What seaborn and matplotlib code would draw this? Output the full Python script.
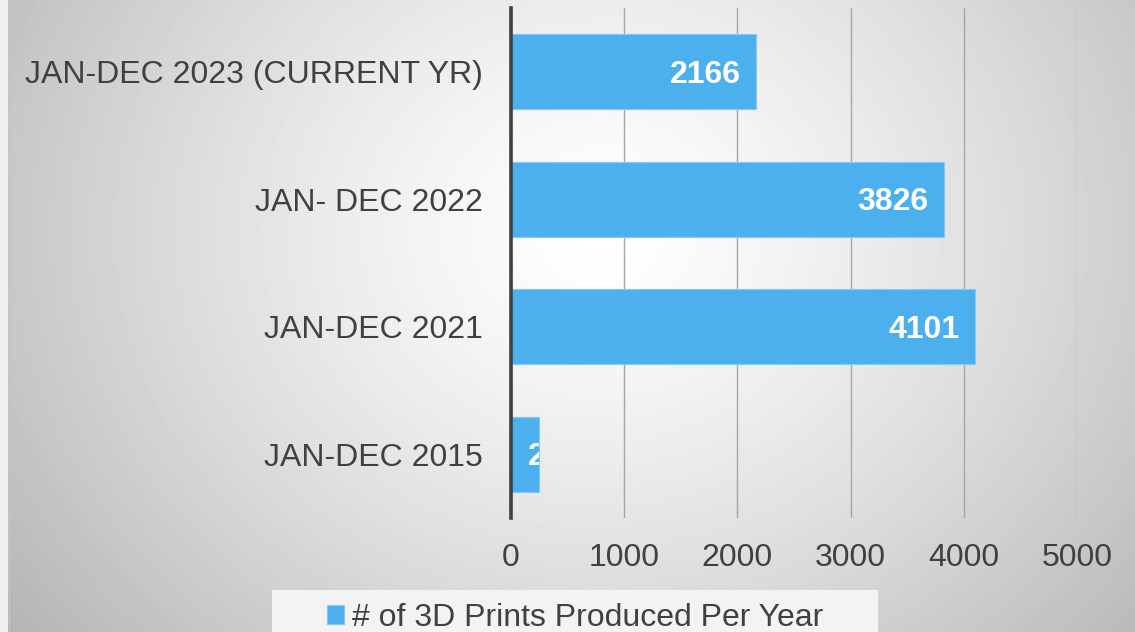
import numpy as np
import pandas as pd
import matplotlib
matplotlib.use('Agg')
import matplotlib.pyplot as plt
from matplotlib.patches import Rectangle
import seaborn as sns

# data
periods = ['JAN-DEC 2023 (CURRENT YR)', 'JAN- DEC 2022', 'JAN-DEC 2021', 'JAN-DEC 2015']
prints = [2166, 3826, 4101, 247]
x_ticks = [0, 1000, 2000, 3000, 4000, 5000]
series_name = '# of 3D Prints Produced Per Year'

df = pd.DataFrame({'period': periods, 'prints': prints})

sns.set_theme(style='white')
plt.rcParams['font.family'] = ['Liberation Sans', 'DejaVu Sans']

W, H = 1135, 632
fig = plt.figure(figsize=(W / 100, H / 100), dpi=100)

# radial grey gradient background
bg = fig.add_axes([0, 0, 1, 1], zorder=-10)
yy, xx = np.mgrid[0:H, 0:W]
r = np.sqrt(((xx - 600) / 640) ** 2 + ((yy - 230) / 560) ** 2)
shade = 1.0 - 0.24 * np.clip(r, 0, 1.25) ** 1.3
bg.imshow(shade, cmap='gray', vmin=0, vmax=1, aspect='auto', extent=[0, W, H, 0])
bg.add_patch(Rectangle((0, 0), 8, H, color='#f0f0f0', lw=0))
bg.plot([8.5, 8.5], [0, H], color='#c4c4c4', lw=1)
# legend box
bg.add_patch(Rectangle((272, 590), 606, 50, color='#f3f3f3', lw=0))
bg.set_xlim(0, W)
bg.set_ylim(H, 0)
bg.axis('off')

ax = fig.add_axes([511 / W, 1 - 518 / H, (1077 - 511) / W, 510 / H])
ax.patch.set_alpha(0)
bar_color = '#4db0ee'
sns.barplot(data=df, y='period', x='prints', orient='h', color=bar_color,
            saturation=1, width=0.59, ax=ax, zorder=3, label=series_name,
            edgecolor='#86c9f3', linewidth=0.8)

ax.set_xlim(0, 5000)
ax.set_xticks(x_ticks)
ax.set_xticklabels([str(t) for t in x_ticks])
ax.xaxis.grid(True, color='#a6a6a6', lw=1)
ax.set_axisbelow(True)
for s in ['top', 'right', 'bottom']:
    ax.spines[s].set_visible(False)
ax.spines['left'].set_color('#404040')
ax.spines['left'].set_linewidth(2.6)
ax.spines['left'].set_zorder(5)
ax.tick_params(axis='x', labelsize=23, colors='#404040', length=0, pad=18)
ax.tick_params(axis='y', labelsize=23, colors='#404040', length=0, pad=20)
ax.set_xlabel('')
ax.set_ylabel('')

# value labels at inside end, clipped to the bar
for bar, v in zip(ax.patches, prints):
    yc = bar.get_y() + bar.get_height() / 2
    if v > 1000:
        t = ax.annotate(str(v), (v, yc), xytext=(-11, -2), textcoords='offset points',
                        ha='right', va='center', color='white', fontsize=23,
                        fontweight='bold', zorder=6)
    else:
        t = ax.annotate(str(v), (0, yc), xytext=(12, -2), textcoords='offset points',
                        ha='left', va='center', color='white', fontsize=23,
                        fontweight='bold', zorder=6)
    t.set_clip_path(bar)

leg = ax.legend(loc='center', bbox_to_anchor=(575 / W, 14 / H),
                bbox_transform=fig.transFigure, frameon=False, fontsize=23,
                handlelength=0.55, handleheight=0.55, handletextpad=0.25,
                labelcolor='#404040')

fig.savefig('out.png', dpi=100)
